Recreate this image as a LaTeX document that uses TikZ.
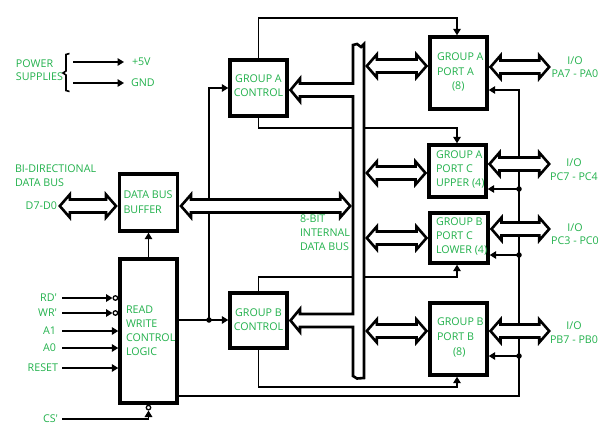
\documentclass[tikz,border=0pt]{standalone}
\usepackage{fontspec}
\setmainfont{Open Sans}[Ligatures=TeXOff]
\usetikzlibrary{calc,arrows.meta}
\definecolor{txtgreen}{RGB}{34,177,76}
\tikzset{
  box/.style={draw=black, line width=3.4pt, inner sep=0pt, fill=white},
  lbl/.style={text=txtgreen, font=\fontsize{10.7}{14}\selectfont, inner sep=0pt, outer sep=0pt},
  wire/.style={line width=1.8pt},
  arr/.style={wire, -{Triangle[length=6.5pt,width=7.5pt]}},
  hollow/.style={draw=black, fill=white, line width=2.6pt, line join=miter},
  jdot/.style={circle, fill=black, inner sep=0pt, minimum size=5.5pt},
  bubble/.style={circle, draw=black, fill=white, line width=1.3pt, inner sep=0pt, minimum size=4.5pt},
}
\newcommand{\dblarrow}[2]{%
  \path[hollow] let \p1=#1, \p2=#2 in
    ({\x1+1.8pt},\y1) -- ({\x1+11.8pt},{\y1+11.5pt}) -- ({\x1+11.8pt},{\y1+6.5pt})
    -- ({\x2-11.8pt},{\y1+6.5pt}) -- ({\x2-11.8pt},{\y1+11.5pt}) -- ({\x2-1.8pt},\y1)
    -- ({\x2-11.8pt},{\y1-11.5pt}) -- ({\x2-11.8pt},{\y1-6.5pt}) -- ({\x1+11.8pt},{\y1-6.5pt})
    -- ({\x1+11.8pt},{\y1-11.5pt}) -- cycle;}
\begin{document}
\begin{tikzpicture}[x=1pt,y=-1pt]
\useasboundingbox (0,0) rectangle (600,426);

% ---------- boxes ----------
\node[box, minimum width=58, minimum height=57] (dbb) at (148.5,202.5) {};
\node[box, minimum width=57, minimum height=144] (rw) at (148.5,331) {};
\node[box, minimum width=57, minimum height=56] (gac) at (258.5,88) {};
\node[box, minimum width=57, minimum height=55] (gbc) at (258.5,320.5) {};
\node[box, minimum width=57, minimum height=72] (pa) at (458.5,73) {};
\node[box, minimum width=57, minimum height=52] (pcu) at (457.5,171) {};
\node[box, minimum width=58, minimum height=50] (pcl) at (459,238) {};
\node[box, minimum width=57, minimum height=72] (pb) at (458.5,339) {};

% ---------- texts ----------
\node[lbl, anchor=north west, align=left, font=\fontsize{10.7}{13}\selectfont] (pwr) at (16,60) {POWER\\SUPPLIES};
\node[lbl, anchor=west] (p5v) at (132,62) {+5V};
\node[lbl, anchor=west] (gnd) at (131,83) {GND};
\node[lbl, anchor=north west, align=left] (bidir) at (15,165) {BI-DIRECTIONAL\\DATA BUS};
\node[lbl, anchor=east] (d7) at (57,206) {D7-D0};
\node[lbl, anchor=north west, align=left, font=\fontsize{10.7}{15}\selectfont] (dbbtxt) at (123.5,191) {DATA BUS\\BUFFER};
\node[lbl, anchor=north west, align=left] (rwtxt) at (126,306) {READ\\WRITE\\CONTROL\\LOGIC};
\node[lbl, anchor=north, align=center, font=\fontsize{10.7}{13.5}\selectfont] (gatxt) at (258.5,75) {GROUP A\\CONTROL};
\node[lbl, anchor=north, align=center] (gbtxt) at (258.5,309) {GROUP B\\CONTROL};
\node[lbl, anchor=north west, align=left] (bustxt) at (300,215) {8-BIT\\INTERNAL\\DATA BUS};
\node[lbl, anchor=north west, align=left, font=\fontsize{10.7}{14.5}\selectfont] (patxt) at (437,53) {GROUP A\\PORT A\\\hspace*{15pt}(8)};
\node[lbl, anchor=north west, align=left] (pcutxt) at (436,151) {GROUP A\\PORT C\\UPPER (4)};
\node[lbl, anchor=north west, align=left] (pcltxt) at (436,218) {GROUP B\\PORT C\\LOWER (4)};
\node[lbl, anchor=north west, align=left, font=\fontsize{10.7}{15}\selectfont] (pbtxt) at (437,318) {GROUP B\\PORT B\\\hspace*{16pt}(8)};
\node[lbl, anchor=north, align=center, font=\fontsize{10.7}{13}\selectfont] (io1) at (575,57) {I/O\\PA7 - PA0};
\node[lbl, anchor=north, align=center] (io2) at (574,159) {I/O\\PC7 - PC4};
\node[lbl, anchor=north, align=center, font=\fontsize{10.7}{13}\selectfont] (io3) at (575,224) {I/O\\PC3 - PC0};
\node[lbl, anchor=north, align=center] (io4) at (574,322) {I/O\\PB7 - PB0};
\node[lbl, anchor=east] (rd) at (57,298) {RD'};
\node[lbl, anchor=east] (wr) at (57,313) {WR'};
\node[lbl, anchor=east] (a1) at (56,331) {A1};
\node[lbl, anchor=east] (a0) at (56,348) {A0};
\node[lbl, anchor=east] (rst) at (58,368) {RESET};
\node[lbl, anchor=east] (cs) at (58,419) {CS'};

% ---------- helper coordinates ----------
\coordinate (ps1) at (73,62);
\coordinate (ps2) at (73,83);
\coordinate (inx) at (62,0);
\coordinate (j1) at (209,320);
\coordinate (gatop) at (0,18);
\coordinate (gabot) at (0,128);
\coordinate (gbtop) at (0,277);
\coordinate (gbbot) at (0,387);
\coordinate (rwbot) at (0,396);
\coordinate (pcol) at (457,0);
\coordinate (rcol) at (519,0);
\coordinate (busL) at (352,0);
\coordinate (busR) at (365,0);
\coordinate (dbin) at (58,0);
\coordinate (ioend) at (551,0);

% ---------- power supplies ----------
\draw[wire, line width=1.6pt] (69.5,53.5) -- (66,54.5) -- (66,71) -- (63,73) -- (66,75) -- (66,90.5) -- (69.5,91.5);
\draw[arr] (ps1) -- ([xshift=-8]p5v.west);
\draw[arr] (ps2) -- ([xshift=-7]gnd.west);

% ---------- inputs of read/write logic ----------
\node[bubble, anchor=east] (brd) at (rw.west |- rd.east) {};
\node[bubble, anchor=east] (bwr) at (rw.west |- wr.east) {};
\draw[arr] (inx |- rd.east) -- (brd.west);
\draw[arr] (inx |- wr.east) -- (bwr.west);
\draw[arr] (inx |- a1.east) -- (rw.west |- a1.east);
\draw[arr] (inx |- a0.east) -- (rw.west |- a0.east);
\draw[arr] (inx |- rst.east) -- (rw.west |- rst.east);
\node[bubble, anchor=north] (bcs) at (rw.south) {};
\draw[arr] (inx |- cs.east) -| (bcs.south);
\draw[arr] (rw.north) -- (rw.north |- dbb.south);

% ---------- control wiring ----------
\draw[wire] (rw.east |- j1) -- (j1);
\draw[arr] (j1) -- (gbc.west |- j1);
\draw[arr] (j1) |- (gac.west);
\node[jdot] (d1) at (j1) {};
\draw[arr] (gac.north) -- (gac.north |- gatop) -- (pcol |- gatop) -- (pcol |- pa.north);
\draw[arr] (gac.south) -- (gac.south |- gabot) -- (pcol |- gabot) -- (pcol |- pcu.north);
\draw[arr] (gbc.north) -- (gbc.north |- gbtop) -- (pcol |- gbtop) -- (pcol |- pcl.south);
\draw[arr] (gbc.south) -- (gbc.south |- gbbot) -- (pcol |- gbbot) -- (pcol |- pb.south);
\draw[arr] (rw.east |- rwbot) -- (rcol |- rwbot) -- (rcol |- 0,90) -- (pa.east |- 0,90);
\node[jdot] (d2) at (rcol |- 0,189) {};
\node[jdot] (d3) at (rcol |- 0,255) {};
\node[jdot] (d4) at (rcol |- 0,356) {};
\draw[arr] (d2.center) -- (pcu.east |- d2.center);
\draw[arr] (d3.center) -- (pcl.east |- d3.center);
\draw[arr] (d4.center) -- (pb.east |- d4.center);

% ---------- internal data bus ----------
\path[hollow] (353,45) -- (353,83.5) -- (300,83.5) -- (300,78.5) -- ($(gac.east |- 0,90)+(1.8,0)$)
  -- (300,101.5) -- (300,96.5) -- (353,96.5) -- (353,314) -- (300,314) -- (300,309)
  -- ($(gbc.east |- 0,320.5)+(1.8,0)$) -- (300,332) -- (300,327) -- (353,327) -- (353,376)
  -- (357,378.5) -- (364,378) -- (364,44) -- (361,47) -- (357,44) -- cycle;

% ---------- hollow data arrows ----------
\dblarrow{(dbin |- d7.east)}{(dbb.west |- d7.east)}
\dblarrow{(dbb.east |- 0,206)}{(busL |- 0,206)}
\dblarrow{(busR |- 0,66)}{(pa.west |- 0,66)}
\dblarrow{(busR |- 0,173)}{(pcu.west |- 0,173)}
\dblarrow{(busR |- 0,238)}{(pcl.west |- 0,238)}
\dblarrow{(busR |- 0,331)}{(pb.west |- 0,331)}
\dblarrow{(pa.east |- 0,67)}{(ioend |- 0,67)}
\dblarrow{(pcu.east |- 0,164)}{(ioend |- 0,164)}
\dblarrow{(pcl.east |- 0,229)}{(ioend |- 0,229)}
\dblarrow{(pb.east |- 0,331)}{(ioend |- 0,331)}
\end{tikzpicture}
\end{document}
